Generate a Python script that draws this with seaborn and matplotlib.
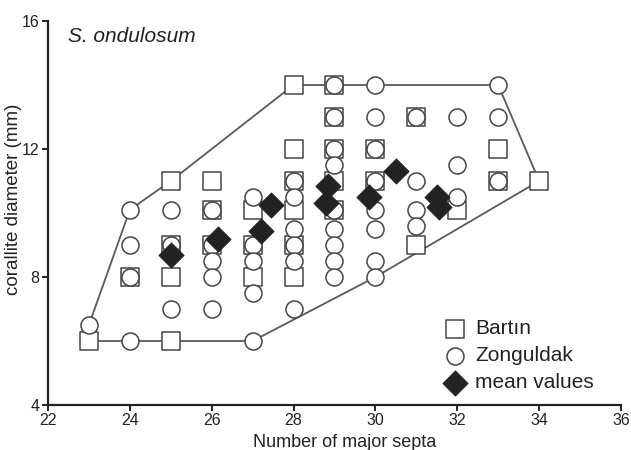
import matplotlib
matplotlib.use("Agg")
import matplotlib.pyplot as plt
import seaborn as sns
import pandas as pd

# Bartın (squares)
bartin_x = [23, 24, 25, 25, 25, 25, 26, 26, 26, 27, 27, 27,
            28, 28, 28, 28, 28, 28, 29, 29, 29, 29, 29,
            30, 30, 31, 31, 32, 33, 33, 34]
bartin_y = [6.0, 8.0, 11.0, 9.0, 8.0, 6.0, 11.0, 10.1, 9.0, 10.1, 9.0, 8.0,
            14.0, 12.0, 11.0, 10.1, 9.0, 8.0, 14.0, 13.0, 12.0, 11.0, 10.1,
            12.0, 11.0, 13.0, 9.0, 10.1, 12.0, 11.0, 11.0]

# Zonguldak (circles)
zong_x = [23, 24, 24, 24, 24, 25, 25, 25, 26, 26, 26, 26, 26,
          27, 27, 27, 27, 27, 28, 28, 28, 28, 28, 28,
          29, 29, 29, 29, 29, 29, 29, 29, 29,
          30, 30, 30, 30, 30, 30, 30, 30,
          31, 31, 31, 31, 32, 32, 32, 33, 33, 33]
zong_y = [6.5, 10.1, 9.0, 8.0, 6.0, 10.1, 9.0, 7.0, 10.1, 9.0, 8.5, 8.0, 7.0,
          10.5, 9.0, 8.5, 7.5, 6.0, 11.0, 10.5, 9.5, 9.0, 8.5, 7.0,
          14.0, 13.0, 12.0, 11.5, 10.1, 9.5, 9.0, 8.5, 8.0,
          14.0, 13.0, 12.0, 11.0, 10.1, 9.5, 8.5, 8.0,
          13.0, 11.0, 10.1, 9.6, 13.0, 11.5, 10.5, 14.0, 13.0, 11.0]

# mean values (diamonds)
mean_x = [25.0, 26.15, 27.2, 27.45, 28.85, 28.8, 29.85, 30.5, 31.5, 31.55]
mean_y = [8.7, 9.2, 9.45, 10.25, 10.85, 10.3, 10.5, 11.3, 10.5, 10.2]

# envelope polygon
hull_x = [23, 24, 25, 28, 33, 34, 30, 27, 25, 24, 23, 23]
hull_y = [6.5, 10.1, 11.0, 14.0, 14.0, 11.0, 8.0, 6.0, 6.0, 6.0, 6.0, 6.5]

x_ticks = [22, 24, 26, 28, 30, 32, 34, 36]
y_ticks = [4, 8, 12, 16]

sns.set_style("ticks")
plt.rcParams['font.family'] = ['Liberation Sans', 'DejaVu Sans']

fig = plt.figure(figsize=(6.31, 4.5), dpi=100)
ax = fig.add_axes([48/631, 45/450, (621-48)/631, (405-21)/450])

edge = "#454545"
ax.plot(hull_x, hull_y, color="#5a5a5a", lw=1.3, zorder=1)

dfb = pd.DataFrame({"x": bartin_x, "y": bartin_y})
dfz = pd.DataFrame({"x": zong_x, "y": zong_y})
dfm = pd.DataFrame({"x": mean_x, "y": mean_y})

sns.scatterplot(data=dfb, x="x", y="y", marker="s", s=150, facecolor="white",
                edgecolor=edge, linewidth=1.1, ax=ax, label="Bartın", zorder=2)
sns.scatterplot(data=dfz, x="x", y="y", marker="o", s=150, facecolor="white",
                edgecolor=edge, linewidth=1.1, ax=ax, label="Zonguldak", zorder=3)
sns.scatterplot(data=dfm, x="x", y="y", marker="D", s=160, color="#222222",
                edgecolor="#222222", linewidth=0.8, ax=ax, label="mean values", zorder=4)

ax.set_xlim(22, 36)
ax.set_ylim(4, 16)
ax.set_xticks(x_ticks)
ax.set_yticks(y_ticks)
ax.tick_params(direction="out", length=4, width=1.4, labelsize=11.5,
               colors="#222222", pad=2)
for sp in ["left", "bottom"]:
    ax.spines[sp].set_linewidth(1.6)
    ax.spines[sp].set_color("#222222")
ax.spines["top"].set_visible(False)
ax.spines["right"].set_visible(False)

ax.set_xlabel("Number of major septa", fontsize=13, color="#222222")
ax.set_ylabel("corallite diameter (mm)", fontsize=13.5, color="#222222")
ax.xaxis.set_label_coords(0.517, -0.075)
ax.yaxis.set_label_coords(-0.045, 0.535)

ax.text(0.035, 0.985, "S. ondulosum", transform=ax.transAxes, fontsize=15,
        style="italic", color="#222222", va="top", ha="left")

leg = ax.legend(loc="upper left", bbox_to_anchor=(0.675, 0.245), frameon=False,
                fontsize=15, handletextpad=0.45, labelspacing=0.38,
                borderaxespad=0, handlelength=1.1)
for t in leg.get_texts():
    t.set_color("#222222")

fig.savefig("out.png", dpi=100)
